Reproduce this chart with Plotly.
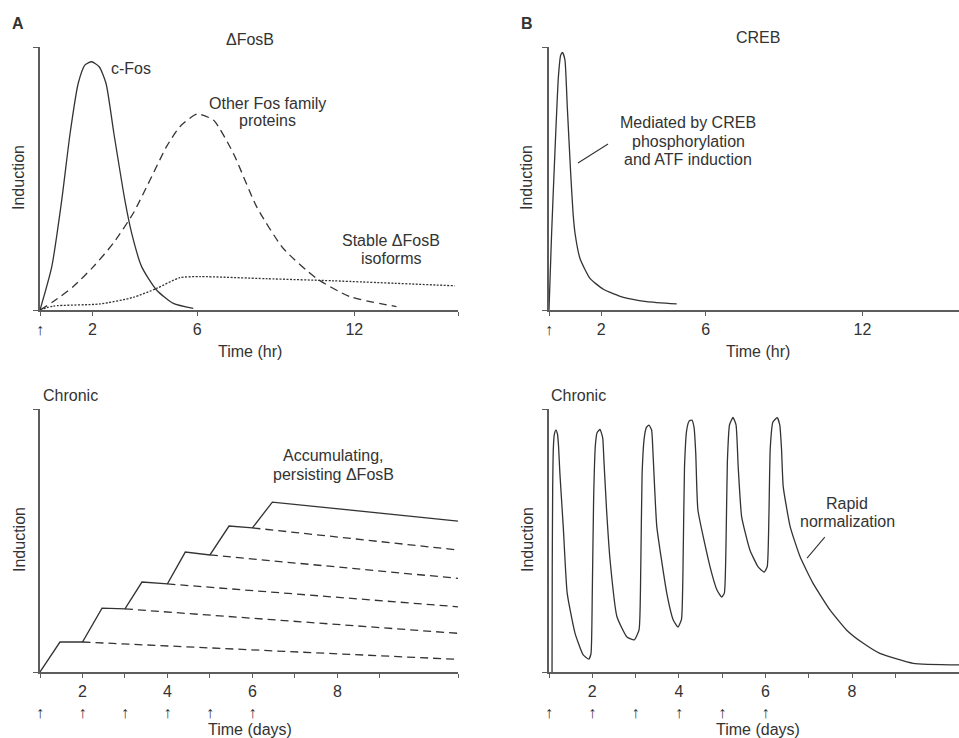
import plotly.graph_objects as go

W, H = 959, 738
FONT = "Liberation Sans, Arial, Helvetica, DejaVu Sans, sans-serif"
INK = "#333333"
AXC = "#5c5c5c"
FS = 16

# ---------------- data ----------------
# Panel A top: acute, time in hours
cfos_t = [0, 0.45, 0.83, 1.15, 1.46, 1.72, 1.97, 2.26, 2.52, 2.82, 3.24, 3.50, 3.88, 4.45, 5.09, 5.85]
cfos_y = [0, 0.165, 0.418, 0.672, 0.862, 0.932, 0.944, 0.925, 0.862, 0.672, 0.418, 0.292, 0.165, 0.076, 0.025, 0.006]

otherfos_t = [0, 0.51, 1.27, 2.04, 2.80, 3.56, 4.20, 4.83, 5.34, 6.0, 6.62, 7.38, 8.27, 9.29, 10.56, 11.83, 13.61]
otherfos_y = [0, 0.032, 0.089, 0.165, 0.254, 0.368, 0.494, 0.621, 0.697, 0.745, 0.722, 0.596, 0.393, 0.234, 0.120, 0.051, 0.013]

stable_t = [0, 0.51, 2.29, 3.56, 4.45, 5.34, 6.11, 8.65, 11.2, 15.84]
stable_y = [0, 0.015, 0.023, 0.048, 0.082, 0.123, 0.127, 0.119, 0.111, 0.092]

# Panel B top: CREB acute
creb_t = [0, 0.10, 0.23, 0.36, 0.45, 0.52, 0.61, 0.70, 0.83, 0.92, 1.0, 1.19, 1.57, 2.08, 2.85, 3.74, 4.89]
creb_y = [0, 0.291, 0.608, 0.887, 0.970, 0.979, 0.951, 0.773, 0.520, 0.37, 0.29, 0.195, 0.120, 0.079, 0.048, 0.032, 0.023]

# Panel A bottom: chronic, time in days
stair_d = [1.0, 1.47, 2.0, 2.46, 3.0, 3.4, 4.0, 4.42, 5.0, 5.45, 6.0, 6.47, 10.84]
stair_y = [0, 0.114, 0.114, 0.243, 0.240, 0.342, 0.335, 0.456, 0.445, 0.555, 0.548, 0.646, 0.574]
decay_start_d = [2, 3, 4, 5, 6]
decay_start_y = [0.114, 0.240, 0.335, 0.445, 0.548]
decay_end_d = 10.84
decay_end_y = [0.048, 0.147, 0.248, 0.356, 0.464]

# Panel B bottom: chronic CREB oscillation
osc_d = [1.07, 1.075, 1.085, 1.10, 1.125, 1.16, 1.195, 1.22, 1.25, 1.33, 1.42, 1.60, 1.79, 1.92,
         1.97, 2.00, 2.03, 2.07, 2.11, 2.18, 2.24, 2.27, 2.33, 2.41, 2.57, 2.80, 2.97,
         3.08, 3.12, 3.15, 3.20, 3.25, 3.31, 3.37, 3.40, 3.44, 3.49, 3.72, 3.87, 3.98,
         4.06, 4.10, 4.13, 4.18, 4.24, 4.30, 4.35, 4.39, 4.44, 4.72, 4.88, 4.99,
         5.05, 5.09, 5.12, 5.17, 5.25, 5.32, 5.37, 5.45, 5.64, 5.83, 5.97,
         6.04, 6.08, 6.11, 6.17, 6.27, 6.33, 6.37, 6.41, 6.57, 6.80, 7.10, 7.49, 7.87, 8.26, 8.64, 9.41, 10.47]
osc_y = [0.0, 0.40, 0.70, 0.85, 0.905, 0.92, 0.905, 0.86, 0.76, 0.55, 0.30, 0.148, 0.065, 0.049,
         0.07, 0.30, 0.65, 0.86, 0.91, 0.922, 0.89, 0.80, 0.616, 0.426, 0.21, 0.133, 0.122,
         0.16, 0.40, 0.75, 0.89, 0.93, 0.939, 0.92, 0.84, 0.70, 0.553, 0.30, 0.198, 0.171,
         0.20, 0.45, 0.78, 0.92, 0.955, 0.958, 0.93, 0.83, 0.616, 0.40, 0.312, 0.285,
         0.30, 0.50, 0.80, 0.94, 0.968, 0.94, 0.78, 0.59, 0.464, 0.40, 0.38,
         0.40, 0.60, 0.85, 0.95, 0.967, 0.94, 0.85, 0.705, 0.553, 0.438, 0.337, 0.236, 0.160, 0.109, 0.071, 0.033, 0.027]

# tick labels
hr_tickvals = [0, 2, 6, 12]
hr_ticktext = ["\u2191", "2", "6", "12"]
day_tickvals = [1, 2, 3, 4, 5, 6, 7, 8, 9]
day_ticktext = [" <br>\u2191", "2<br>\u2191", " <br>\u2191", "4<br>\u2191", " <br>\u2191", "6<br>\u2191", "", "8", ""]

# leader lines for labels (data coordinates)
creb_leader_x = [1.11, 2.26]
creb_leader_y = [0.559, 0.631]
norm_leader_x = [6.96, 7.37]
norm_leader_y = [0.433, 0.513]

# ---------------- figure ----------------
fig = go.Figure()


def add_line(x, y, xa, ya, dash="solid", shape="spline", smoothing=0.6, width=1.3):
    ln = dict(color=INK, width=width, dash=dash, shape=shape)
    if shape == "spline":
        ln["smoothing"] = smoothing
    fig.add_trace(go.Scatter(x=x, y=y, xaxis=xa, yaxis=ya, mode="lines", line=ln,
                             hoverinfo="skip", showlegend=False))


add_line(cfos_t, cfos_y, "x", "y")
add_line(otherfos_t, otherfos_y, "x", "y", dash="8px,5px")
add_line(stable_t, stable_y, "x", "y", dash="2px,1.5px")
add_line(creb_t, creb_y, "x2", "y2", smoothing=0.5)
add_line(creb_leader_x, creb_leader_y, "x2", "y2", shape="linear", width=1.1)
add_line(stair_d, stair_y, "x3", "y3", shape="linear")
for sd, sy, ey in zip(decay_start_d, decay_start_y, decay_end_y):
    add_line([sd, decay_end_d], [sy, ey], "x3", "y3", dash="8px,5px", shape="linear")
add_line(osc_d, osc_y, "x4", "y4", smoothing=0.45)
add_line(norm_leader_x, norm_leader_y, "x4", "y4", shape="linear", width=1.1)


def px_x(p):
    return p / W


def px_y(p):
    return 1 - p / H


def xaxis(domain, rng, tv, tt, anchor):
    return dict(domain=domain, range=rng, anchor=anchor, showline=True, linecolor=AXC, linewidth=1.5,
                ticks="outside", ticklen=4, tickwidth=1.2, tickcolor=AXC, tickvals=tv, ticktext=tt,
                tickfont=dict(family=FONT, size=FS, color=INK), showgrid=False, zeroline=False,
                fixedrange=True)


def yaxis(domain, anchor):
    return dict(domain=domain, range=[0, 1], anchor=anchor, showline=True, linecolor=AXC, linewidth=1.5,
                ticks="outside", ticklen=5, tickwidth=1.2, tickcolor=AXC, tickvals=[0, 1],
                showticklabels=False, showgrid=False, zeroline=False, fixedrange=True)


left_dom = [px_x(40), px_x(458)]
right_dom = [px_x(549), 1.0]
top_dom = [px_y(310), px_y(47)]
bot_dom = [px_y(672), px_y(409)]

fig.update_layout(
    width=W, height=H, margin=dict(l=0, r=0, t=0, b=0, autoexpand=False),
    paper_bgcolor="white", plot_bgcolor="white",
    font=dict(family=FONT, size=FS, color=INK),
    xaxis=xaxis(left_dom, [0, 15.96], hr_tickvals + [15.96], hr_ticktext + [""], "y"),
    yaxis=yaxis(top_dom, "x"),
    xaxis2=xaxis(right_dom, [0, 15.7], hr_tickvals, hr_ticktext, "y2"),
    yaxis2=yaxis(top_dom, "x2"),
    xaxis3=xaxis(left_dom, [1, 10.84], day_tickvals + [10.84], day_ticktext + [""], "y3"),
    yaxis3=yaxis(bot_dom, "x3"),
    xaxis4=xaxis(right_dom, [1, 10.47], day_tickvals, day_ticktext, "y4"),
    yaxis4=yaxis(bot_dom, "x4"),
)

texts = [
    ("<b>A</b>", 18, 24, 16, 0),
    ("<b>B</b>", 527, 24, 16, 0),
    ("\u0394FosB", 250, 39, FS, 0),
    ("CREB", 758, 38, FS, 0),
    ("c-Fos", 131, 68, FS, 0),
    ("Other Fos family", 267, 104, FS, 0),
    ("proteins", 267, 121, FS, 0),
    ("Stable \u0394FosB", 391, 240, FS, 0),
    ("isoforms", 391, 258, FS, 0),
    ("Mediated by CREB", 688, 123, FS, 0),
    ("phosphorylation", 688, 141, FS, 0),
    ("and ATF induction", 688, 159, FS, 0),
    ("Time (hr)", 250, 352, FS, 0),
    ("Time (hr)", 758, 352, FS, 0),
    ("Induction", 19, 178, FS, -90),
    ("Induction", 527, 178, FS, -90),
    ("Chronic", 70, 395, FS, 0),
    ("Chronic", 578, 395, FS, 0),
    ("Accumulating,", 333, 455, FS, 0),
    ("persisting \u0394FosB", 333, 474, FS, 0),
    ("Rapid", 847, 503, FS, 0),
    ("normalization", 847, 521, FS, 0),
    ("Induction", 19, 540, FS, -90),
    ("Induction", 527, 540, FS, -90),
    ("Time (days)", 250, 729, FS, 0),
    ("Time (days)", 758, 729, FS, 0),
]
for txt, x, y, sz, ang in texts:
    fig.add_annotation(text=txt, x=px_x(x), y=px_y(y), xref="paper", yref="paper",
                       xanchor="center", yanchor="middle", showarrow=False, textangle=ang,
                       font=dict(family=FONT, size=sz, color=INK))

fig.write_html("out.html", config={"displayModeBar": False},
               post_script="document.body.style.margin='0px';")
